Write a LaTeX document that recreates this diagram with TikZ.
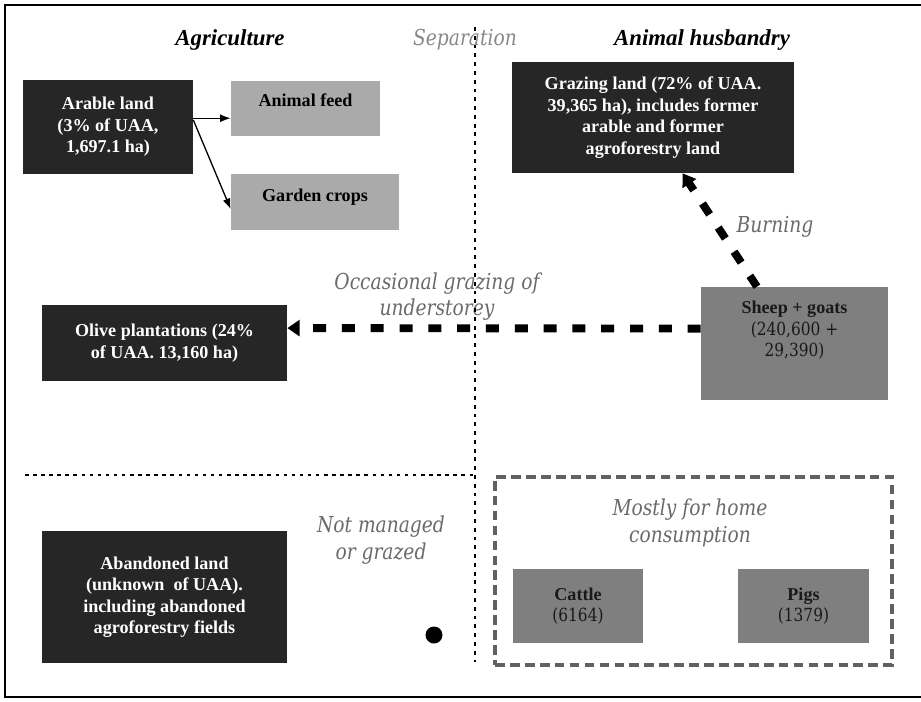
\documentclass[tikz,border=0pt]{standalone}
\usepackage{fontspec}
\setmainfont{Liberation Serif}
\newfontfamily\dvserif[FakeStretch=0.85]{DejaVu Serif}
\usepackage{xcolor}
\usepackage{tikz}
\usetikzlibrary{arrows.meta, calc, positioning}

\definecolor{boxdark}{HTML}{262626}
\definecolor{boxlight}{HTML}{AAAAAA}
\definecolor{boxmid}{HTML}{7F7F7F}
\definecolor{notegray}{HTML}{6A6A6A}

\tikzset{
	boxtext/.style={align=center, inner sep=0pt, font=\fontsize{10.3}{12.2}\selectfont},
	darkbox/.style={boxtext, fill=boxdark, text=white, font=\fontsize{10.3}{12.2}\selectfont\bfseries},
	lightbox/.style={boxtext, fill=boxlight, text=black, font=\fontsize{10.3}{12.2}\selectfont\bfseries},
	midbox/.style={boxtext, fill=boxmid, text=black!90},
	heading/.style={font=\fontsize{13}{15}\selectfont\bfseries\itshape},
	note/.style={text=notegray, align=center, font=\dvserif\itshape\fontsize{12.5}{15}\selectfont},
	flow/.style={line width=4.5pt, dash pattern=on 7.4pt off 9pt, -{Triangle[length=7pt, width=9pt]}},
	feedarrow/.style={line width=0.75pt, -{Latex[length=6pt, width=4.5pt]}},
	divider/.style={line width=1.6pt, dash pattern=on 2.2pt off 2.8pt},
}

\begin{document}
\begin{tikzpicture}[x=0.02cm, y=-0.02cm]
			\useasboundingbox (0,0) rectangle (921,701);
			
			%% Frame
			\draw[line width=1.4pt] (925,5) -- (5,5) -- (5,697) -- (925,697);
			
			%% Headings
			\node[heading] (agri) at (230,40) {Agriculture};
			\node[heading] (husb) at (702,40) {Animal husbandry};
			\node[note, text=notegray!80] (sep) at (465,40) {Separation};
			
			%% Dividers
			\coordinate (septop) at (475,27);
			\coordinate (sepbot) at (475,662);
			\coordinate (sepleft) at (25,475);
			\draw[divider, line width=1.3pt, dash pattern=on 2pt off 2.6pt] (sepleft) -- (sepleft -| septop);
			
			%% Arable land
			\node[darkbox, minimum width=3.4cm, minimum height=1.88cm] (arable) at (108,127)
				{Arable land\\(3\% of UAA,\\1,697.1 ha)};
			\node[lightbox, minimum width=2.98cm, minimum height=1.1cm, text depth=9pt] (feed) at (305.5,108.5)
				{Animal feed};
			\node[lightbox, minimum width=3.36cm, minimum height=1.12cm, text depth=8pt] (garden) at (315,202)
				{Garden crops};
			\draw[feedarrow] ([yshift=5pt]arable.east) -- ([yshift=5pt]arable.east -| feed.west);
			\draw[feedarrow] ([yshift=4pt]arable.east) -- ([yshift=-4pt]garden.west);
			
			%% Grazing land
			\node[darkbox, minimum width=5.64cm, minimum height=2.22cm] (grazing) at (653,117.5)
				{Grazing land (72\% of UAA.\\39,365 ha), includes former\\arable and former\\agroforestry land};
			
			%% Sheep + goats
			\node[midbox, minimum width=3.74cm, minimum height=2.26cm] (sheep) at (794.5,343.5) {};
			\node[boxtext, text=black!90, below=8pt of sheep.north] (sheeptext)
				{\textbf{Sheep + goats}\\{\dvserif (240,600 +}\\{\dvserif 29,390)}};
			
			%% Olive plantations
			\node[darkbox, minimum width=4.9cm, minimum height=1.52cm] (olive) at (164.5,343)
				{Olive plantations (24\%\\of UAA. 13,160 ha)};
			
			%% Burning
			\draw[flow] ($(sheep.north west)!0.3!(sheep.north east)$) -- ($(grazing.south west)!0.605!(grazing.south east)$);
			\node[note] (burn) at (775,227) {Burning};
			
			%% Occasional grazing
			\node[note] (occ) at (437,296.5) {Occasional grazing of\\understorey};
			\draw[flow] ([yshift=8.5pt]sheep.west) -- ([yshift=8.5pt]olive.east);
			\draw[divider] (septop) -- (sepbot);
			
			%% Abandoned land
			\node[darkbox, minimum width=4.9cm, minimum height=2.64cm] (aband) at (164.5,597)
				{Abandoned land\\(unknown\ \ of UAA).\\including abandoned\\agroforestry fields};
			\node[note] (notman) at (381,540) {Not managed\\or grazed};
			\fill (434,635) circle [radius=0.17cm];
			
			%% Home consumption
			\node[draw=black!62, line width=2pt, dash pattern=on 5.5pt off 3pt,
				minimum width=7.94cm, minimum height=3.76cm] (home) at (693.5,571) {};
			\node[note] (homenote) at (690,523) {Mostly for home\\consumption};
			\node[midbox, minimum width=2.6cm, minimum height=1.48cm] (cattle) at (578,606)
				{\textbf{Cattle}\\{\dvserif (6164)}};
			\node[midbox, minimum width=2.62cm, minimum height=1.48cm] (pigs) at (803.5,606)
				{\textbf{Pigs}\\{\dvserif (1379)}};
		\end{tikzpicture}
\end{document}
